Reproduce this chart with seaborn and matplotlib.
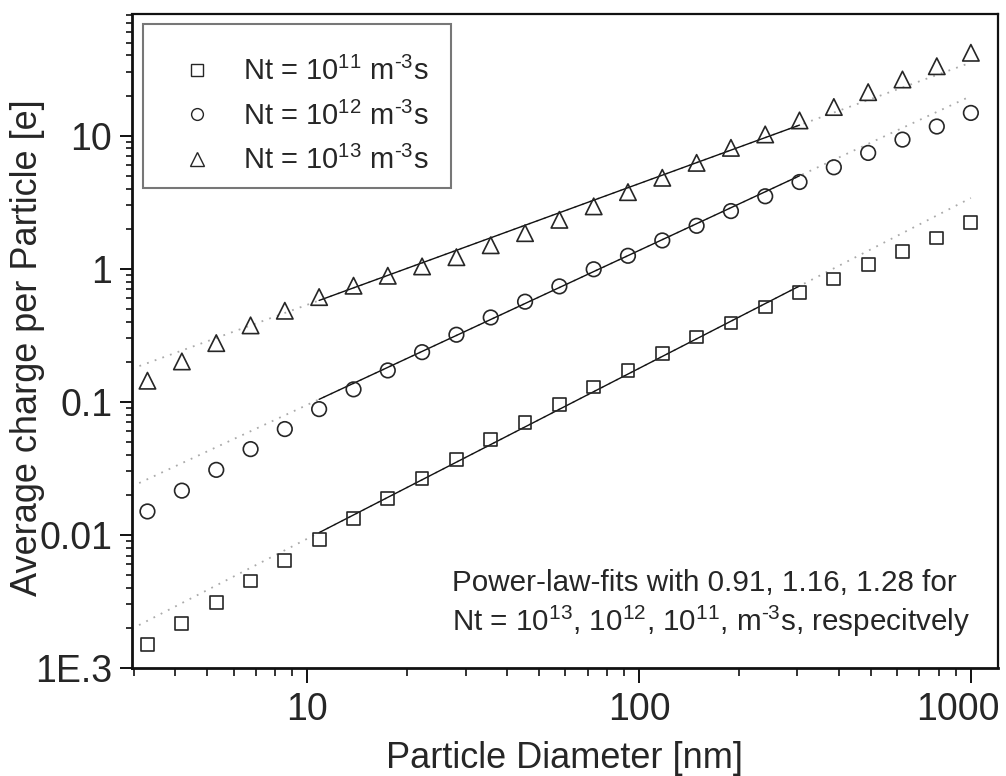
import matplotlib
matplotlib.use("Agg")
import numpy as np
import seaborn as sns
import matplotlib.pyplot as plt
from matplotlib.lines import Line2D
from matplotlib.ticker import FixedLocator, LogLocator, NullFormatter
from matplotlib.transforms import ScaledTranslation

# particle diameters [nm]
diameter = [3.30, 4.19, 5.32, 6.75, 8.56, 10.86, 13.79, 17.49, 22.19, 28.16,
            35.73, 45.34, 57.53, 73.0, 92.6, 117.5, 149.1, 189.2, 240.0, 304.5,
            386.4, 490.3, 622.1, 789.4, 1000.0]

# average charge per particle [e]
charge_1e11 = [0.00151, 0.00217, 0.00312, 0.00451, 0.00645, 0.00917, 0.0132, 0.0187,
               0.0264, 0.0366, 0.052, 0.070, 0.0948, 0.129, 0.172, 0.230, 0.307,
               0.391, 0.515, 0.664, 0.836, 1.07, 1.35, 1.70, 2.21]
charge_1e12 = [0.0150, 0.0215, 0.0308, 0.0441, 0.0624, 0.0881, 0.124, 0.172, 0.236,
               0.319, 0.430, 0.565, 0.736, 0.99, 1.25, 1.63, 2.10, 2.71, 3.50, 4.48,
               5.78, 7.41, 9.33, 11.7, 14.8]
charge_1e13 = [0.144, 0.201, 0.276, 0.375, 0.483, 0.612, 0.745, 0.885, 1.04, 1.22,
               1.50, 1.85, 2.33, 2.94, 3.76, 4.82, 6.24, 8.09, 10.2, 13.0, 16.4,
               21.2, 26.4, 33.2, 41.9]

# power-law fits y = a * d^b
fit_prefactor = [0.000491, 0.00656, 0.0659]
fit_exponent = [1.28, 1.16, 0.91]
fit_full_range = [2.96, 1000.0]      # dotted extension
fit_solid_range = [10.86, 304.5]     # range used for the fit

series_labels = [r"Nt = $10^{11}$ m$^{\text{-}3}$s  ", r"Nt = $10^{12}$ m$^{\text{-}3}$s  ",
                 r"Nt = $10^{13}$ m$^{\text{-}3}$s  "]
series_markers = ["s", "o", "^"]
series_sizes = [85, 110, 140]
legend_marker_sizes = [8, 8.5, 9.5]

y_ticks = [1e-3, 1e-2, 0.1, 1, 10]
y_ticklabels = ["1E.3", "0.01", "0.1", "1", "10"]
x_ticks = [10, 100, 1000]
x_ticklabels = ["10", "100", "1000"]

sns.set_theme(style="ticks")
plt.rcParams["font.family"] = ["Liberation Sans", "DejaVu Sans"]
plt.rcParams["mathtext.fontset"] = "custom"
plt.rcParams["mathtext.rm"] = "Liberation Sans"
plt.rcParams["mathtext.it"] = "Liberation Sans"
plt.rcParams["mathtext.default"] = "regular"

fig = plt.figure(figsize=(10.06, 7.76), dpi=100)
ax = fig.add_axes([0.131, 0.1392, 0.8608, 0.8428])
ax.set_xscale("log")
ax.set_yscale("log")

edge = "#262626"
all_charges = [charge_1e11, charge_1e12, charge_1e13]
for ys, mk, sz in zip(all_charges, series_markers, series_sizes):
    sns.scatterplot(x=diameter, y=ys, marker=mk, s=sz, facecolor="none",
                    edgecolor=edge, linewidth=1.2, ax=ax, zorder=3)

for a, b in zip(fit_prefactor, fit_exponent):
    xs_full = np.array(fit_full_range)
    xs_fit = np.array(fit_solid_range)
    sns.lineplot(x=xs_full, y=a * xs_full ** b, color="#aaaaaa", lw=1.3,
                 linestyle=(0, (1, 3.5)), ax=ax, zorder=1)
    sns.lineplot(x=xs_fit, y=a * xs_fit ** b, color="#111111", lw=1.0, ax=ax, zorder=2)

ax.set_xlim(2.96, 1205)
ax.set_ylim(1e-3, 82)

ax.xaxis.set_major_locator(FixedLocator(x_ticks))
ax.set_xticklabels(x_ticklabels)
ax.xaxis.set_minor_locator(LogLocator(base=10, subs=np.arange(2, 10), numticks=20))
ax.xaxis.set_minor_formatter(NullFormatter())
ax.yaxis.set_major_locator(FixedLocator(y_ticks))
ax.set_yticklabels(y_ticklabels)
ax.yaxis.set_minor_locator(LogLocator(base=10, subs=np.arange(2, 10), numticks=20))
ax.yaxis.set_minor_formatter(NullFormatter())

ax.tick_params(axis="x", which="major", direction="out", length=11, width=1.4,
               labelsize=27, pad=6, color="#111111")
ax.tick_params(axis="x", which="minor", direction="out", length=6, width=1.2, color="#111111")
ax.tick_params(axis="y", which="major", direction="out", length=9, width=1.4,
               labelsize=27, pad=5, color="#111111")
ax.tick_params(axis="y", which="minor", direction="out", length=4, width=1.2, color="#111111")
ax.tick_params(top=False, right=False, which="both")

# keep the last x label inside the picture, as in the original
last = ax.get_xticklabels()[-1]
last.set_transform(last.get_transform() + ScaledTranslation(-0.13, 0, fig.dpi_scale_trans))

for side in ["left", "bottom", "top", "right"]:
    ax.spines[side].set_visible(True)
    ax.spines[side].set_color("#111111")
ax.spines["left"].set_linewidth(2.0)
ax.spines["bottom"].set_linewidth(2.0)
ax.spines["top"].set_linewidth(1.6)
ax.spines["right"].set_linewidth(1.6)

ax.set_xlabel("Particle Diameter [nm]", fontsize=26, labelpad=10)
ax.set_ylabel("Average charge per Particle [e]", fontsize=26)
ax.yaxis.set_label_coords(-0.100, 0.49)

handles = [Line2D([], [], ls="none", marker=mk, markersize=ms,
                  markerfacecolor="none", markeredgecolor=edge, markeredgewidth=1.0)
           for mk, ms in zip(series_markers, legend_marker_sizes)]
leg = ax.legend(handles, series_labels, loc="upper left", bbox_to_anchor=(0.0127, 0.985),
                fontsize=21, frameon=True, fancybox=False, borderpad=0.45,
                labelspacing=0.52, handlelength=2.8, handletextpad=0.2,
                borderaxespad=0, title=" ", title_fontsize=4)
leg.get_frame().set_edgecolor("#555555")
leg.get_frame().set_linewidth(1.5)

ax.text(0.3697, 0.098,
        "Power-law-fits with 0.91, 1.16, 1.28 for\n"
        r"Nt = $10^{13}$, $10^{12}$, $10^{11}$, m$^{\text{-}3}$s, respecitvely",
        transform=ax.transAxes, ha="left", va="center", fontsize=21.3, linespacing=1.25)

fig.savefig("out.png", dpi=100)
